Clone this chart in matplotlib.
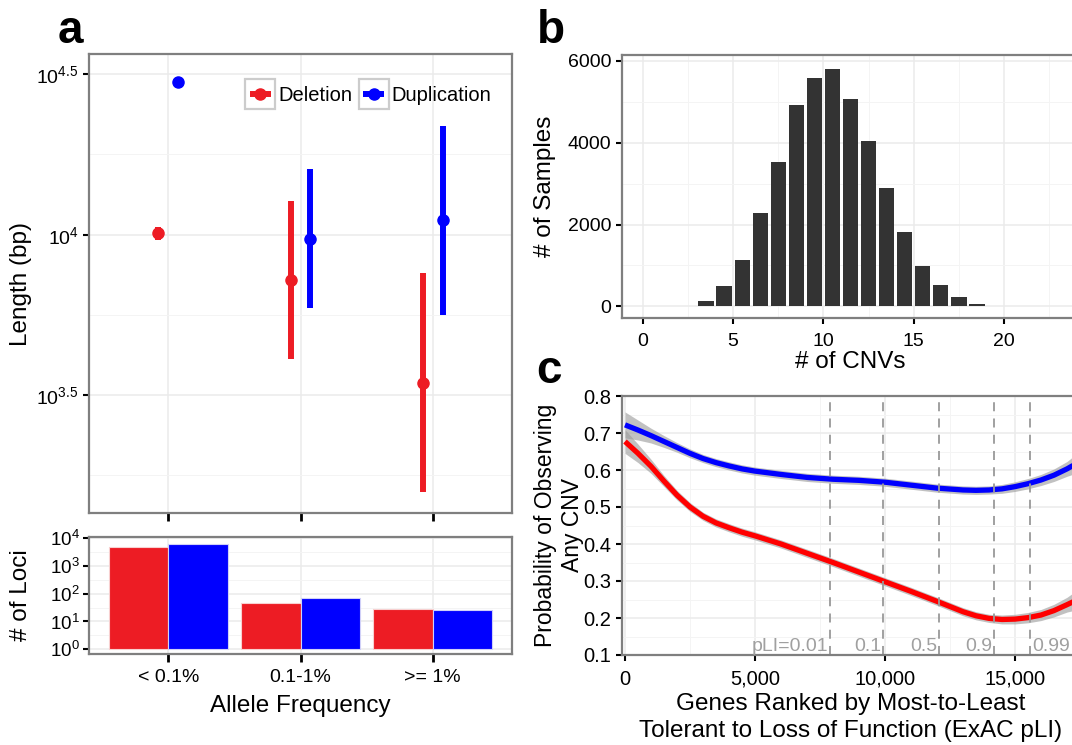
import matplotlib
matplotlib.use('Agg')
import matplotlib.pyplot as plt
import numpy as np
from matplotlib.lines import Line2D
from matplotlib.patches import Rectangle

plt.rcParams['font.family'] = ['Liberation Sans', 'DejaVu Sans']
plt.rcParams['mathtext.fontset'] = 'custom'
plt.rcParams['mathtext.rm'] = 'Liberation Sans'
plt.rcParams['mathtext.it'] = 'Liberation Sans:italic'
plt.rcParams['mathtext.bf'] = 'Liberation Sans:bold'

RED = '#ED1C24'
BLUE = '#0000FF'
GRID = '#EBEBEB'
GRID_MINOR = '#F4F4F4'
BORDER = '#7F7F7F'

# panel a: CNV length by allele frequency bin
freq_labels = ['< 0.1%', '0.1-1%', '>= 1%']
del_len = [10120, 7240, 3460]
del_lo = [9660, 4110, 1575]
del_hi = [10590, 12730, 7600]
dup_len = [29920, 9720, 11140]
dup_lo = [29100, 5920, 5610]
dup_hi = [30760, 16030, 21880]
del_loci = [4780, 46, 26]
dup_loci = [6100, 71, 25]

# panel b: CNVs per sample
n_cnvs = [3, 4, 5, 6, 7, 8, 9, 10, 11, 12, 13, 14, 15, 16, 17, 18]
n_samples = [122, 488, 1130, 2293, 3520, 4919, 5585, 5805, 5057, 4049, 2902, 1805, 984, 528, 236, 57]

# panel c: smoothed probability of observing a CNV along pLI rank
gene_rank = [0, 500, 1000, 1500, 2000, 2500, 3000, 3500, 4000, 4500, 5000, 6000, 7000, 8000,
             9000, 10000, 11000, 12000, 13000, 13500, 14000, 14500, 15000, 15500, 16000,
             16500, 17000, 17300]
p_dup = [0.722, 0.708, 0.693, 0.677, 0.661, 0.645, 0.631, 0.620, 0.611, 0.603, 0.597, 0.588,
         0.580, 0.575, 0.572, 0.567, 0.559, 0.551, 0.546, 0.545, 0.546, 0.549, 0.555, 0.563,
         0.573, 0.586, 0.603, 0.615]
p_del = [0.677, 0.645, 0.610, 0.570, 0.532, 0.500, 0.475, 0.457, 0.444, 0.432, 0.422, 0.400,
         0.375, 0.350, 0.324, 0.298, 0.272, 0.245, 0.217, 0.206, 0.199, 0.196, 0.197, 0.201,
         0.208, 0.220, 0.236, 0.246]
ci_dup = [0.035, 0.027, 0.020, 0.016, 0.013, 0.012, 0.011, 0.011, 0.011, 0.011, 0.011, 0.011,
          0.011, 0.011, 0.011, 0.011, 0.011, 0.011, 0.011, 0.011, 0.011, 0.012, 0.013, 0.014,
          0.015, 0.017, 0.020, 0.025]
ci_del = [0.032, 0.025, 0.019, 0.015, 0.013, 0.012, 0.011, 0.011, 0.011, 0.011, 0.011, 0.011,
          0.011, 0.011, 0.011, 0.011, 0.011, 0.011, 0.011, 0.011, 0.011, 0.012, 0.013, 0.014,
          0.015, 0.017, 0.020, 0.025]
pli_cut = [7900, 9940, 12090, 14190, 15590]
pli_labels = ['pLI=0.01', '0.1', '0.5', '0.9', '0.99']
pli_side = ['right', 'right', 'right', 'right', 'left']

W, H = 1072, 745
fig = plt.figure(figsize=(W / 100, H / 100), dpi=100)


def style(ax):
    for s in ax.spines.values():
        s.set_color(BORDER)
        s.set_linewidth(1.6)
    ax.set_axisbelow(True)
    ax.grid(True, which='major', color=GRID, lw=1.1)
    ax.grid(True, which='minor', color=GRID_MINOR, lw=0.7)
    ax.tick_params(which='major', length=4.5, width=1.5, color='black',
                   labelsize=14, pad=3)
    ax.tick_params(which='minor', length=0)


def box(l, r, t, b):
    return [l / W, (H - b) / H, (r - l) / W, (b - t) / H]


# ---- a (top) ----
ax = fig.add_axes(box(89, 512, 54, 513))
style(ax)
xs = np.arange(1, 4)
off = 0.075
ax.errorbar(xs - off, del_len, yerr=[np.subtract(del_len, del_lo), np.subtract(del_hi, del_len)],
            fmt='o', color=RED, ms=8, elinewidth=4.3, capsize=0)
ax.errorbar(xs + off, dup_len, yerr=[np.subtract(dup_len, dup_lo), np.subtract(dup_hi, dup_len)],
            fmt='o', color=BLUE, ms=8, elinewidth=4.3, capsize=0)
ax.set_yscale('log')
ax.set_ylim(10 ** 3.133, 10 ** 4.563)
ax.set_yticks([10 ** 3.5, 10 ** 4, 10 ** 4.5])
ax.set_yticklabels([r'$10^{3.5}$', r'$10^{4}$', r'$10^{4.5}$'])
ax.set_yticks([10 ** 3.25, 10 ** 3.75, 10 ** 4.25], minor=True)
ax.yaxis.set_minor_formatter(matplotlib.ticker.NullFormatter())
ax.set_xlim(0.4, 3.6)
ax.set_xticks(xs)
ax.set_xticklabels([])
ax.tick_params(axis='x', length=6, width=2)
ax.set_ylabel('Length (bp)', fontsize=17.5)
ax.yaxis.set_label_coords(-0.135, 0.5)
handles = [Line2D([], [], color=RED, marker='o', lw=4.3, ms=8, solid_capstyle='butt'),
           Line2D([], [], color=BLUE, marker='o', lw=4.3, ms=8, solid_capstyle='butt')]
leg = ax.legend(handles, ['Deletion', 'Duplication'], ncol=2, frameon=False,
                loc='upper right', bbox_to_anchor=(0.993, 0.97), fontsize=14.5,
                handlelength=1.05, handletextpad=0.35, columnspacing=0.55)

# ---- a (bottom) ----
ax = fig.add_axes(box(89, 512, 537, 654))
style(ax)
bw = 0.45
ax.bar(xs - bw / 2, del_loci, width=bw, bottom=1, color=RED, edgecolor='#F8D0D0', lw=0.8)
ax.bar(xs + bw / 2, dup_loci, width=bw, bottom=1, color=BLUE, edgecolor='#D0D0F8', lw=0.8)
ax.set_yscale('log')
ax.set_ylim(10 ** -0.17, 10 ** 4.04)
ax.set_yticks([10 ** k for k in range(5)])
ax.set_yticklabels([r'$10^{%d}$' % k for k in range(5)])
ax.set_yticks([10 ** (k + 0.5) for k in range(4)], minor=True)
ax.yaxis.set_minor_formatter(matplotlib.ticker.NullFormatter())
ax.tick_params(axis='y', labelsize=13.5, pad=2)
ax.set_xlim(0.4, 3.6)
ax.set_xticks(xs)
ax.set_xticklabels(freq_labels)
ax.tick_params(axis='x', length=6, width=2, pad=5)
ax.set_xlabel('Allele Frequency', fontsize=17.5, labelpad=6)
ax.set_ylabel('# of Loci', fontsize=17.5)
ax.yaxis.set_label_coords(-0.135, 0.5)

# ---- b ----
ax = fig.add_axes(box(622, 1078, 55, 318))
style(ax)
ax.bar(np.add(n_cnvs, 0.5), n_samples, width=0.84, color='#333333', lw=0)
ax.set_xlim(-1.146, 24.09)
ax.set_ylim(-283, 6139)
ax.set_xticks([0, 5, 10, 15, 20])
ax.set_xticks([2.5, 7.5, 12.5, 17.5, 22.5], minor=True)
ax.set_yticks([0, 2000, 4000, 6000])
ax.set_yticks([1000, 3000, 5000], minor=True)
ax.tick_params(axis='x', pad=6)
ax.set_xlabel('# of CNVs', fontsize=17.5, labelpad=1)
ax.set_ylabel('# of Samples', fontsize=17.5)
ax.yaxis.set_label_coords(-0.145, 0.5)

# ---- c ----
ax = fig.add_axes(box(622, 1080, 396, 655))
style(ax)
ax.fill_between(gene_rank, np.subtract(p_dup, ci_dup), np.add(p_dup, ci_dup),
                color='#999999', alpha=0.6, lw=0)
ax.fill_between(gene_rank, np.subtract(p_del, ci_del), np.add(p_del, ci_del),
                color='#999999', alpha=0.6, lw=0)
ax.plot(gene_rank, p_dup, color=BLUE, lw=3.8, solid_capstyle='butt')
ax.plot(gene_rank, p_del, color='#FF0000', lw=3.8, solid_capstyle='butt')
for xc, lab, side in zip(pli_cut, pli_labels, pli_side):
    ax.axvline(xc, color='#999999', lw=1.3, ls=(0, (5, 4)))
    dx = -80 if side == 'right' else 80
    ax.text(xc + dx, 0.112, lab, ha=side, va='baseline', color='#A0A0A0', fontsize=14)
ax.set_xlim(-115, 17433)
ax.set_ylim(0.1, 0.8)
ax.set_xticks([0, 5000, 10000, 15000])
ax.set_xticklabels(['0', '5,000', '10,000', '15,000'])
ax.set_xticks([2500, 7500, 12500, 17500], minor=True)
ax.set_yticks(np.round(np.arange(0.1, 0.81, 0.1), 1))
ax.set_yticks(np.round(np.arange(0.15, 0.8, 0.1), 2), minor=True)
ax.tick_params(which='major', labelsize=14.5)
ax.tick_params(axis='x', pad=6)
ax.set_xlabel('Genes Ranked by Most-to-Least\nTolerant to Loss of Function (ExAC pLI)',
              fontsize=17.5, labelpad=3, linespacing=1.3)
ax.set_ylabel('Probability of Observing\nAny CNV', fontsize=16.5, linespacing=1.25)
ax.yaxis.set_label_coords(-0.082, 0.5)

# panel letters
for lab, x, y in [('a', 58, 43), ('b', 537, 43), ('c', 536, 383)]:
    fig.text(x / W, (H - y) / H, lab, fontsize=33, fontweight='bold', va='baseline')

# grey boxes around legend keys
fig.canvas.draw()
r = fig.canvas.get_renderer()
for h in leg.legend_handles:
    bb = h.get_window_extent(r)
    cx = (bb.x0 + bb.x1) / 2
    cy = (bb.y0 + bb.y1) / 2
    fig.patches.append(Rectangle(((cx - 15) / W, (cy - 15) / H), 30 / W, 30 / H,
                                 transform=fig.transFigure, fill=False,
                                 edgecolor='#CCCCCC', lw=1.6, zorder=0))

fig.savefig('out.png', dpi=100)
